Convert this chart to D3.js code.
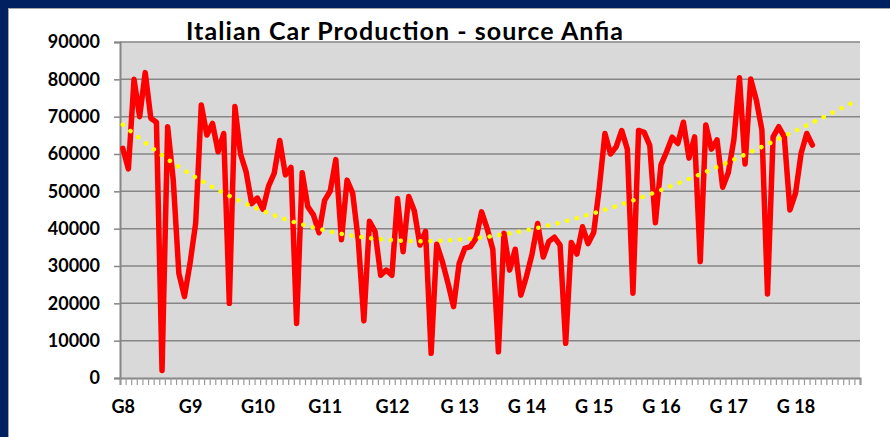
<!DOCTYPE html>
<html>
<head>
<meta charset="utf-8">
<script src="https://cdn.jsdelivr.net/npm/d3@7"></script>
<style>
body { margin: 0; background: #002060; }
svg { display: block; }
</style>
</head>
<body>
<svg id="chart" width="890" height="437"></svg>
<script>
// monthly car production, Jan 2008 .. Apr 2018
const production = [
  61500, 56000, 80000, 70000, 81800, 69600, 68500, 2000, 67300, 53000, 28000, 21800,
  30800, 41500, 73100, 65100, 68200, 60600, 65500, 20000, 72700, 60000, 55200, 46700,
  48200, 45200, 51400, 54800, 63600, 54400, 56400, 14600, 55000, 45900, 43700, 38900,
  47600, 50100, 58500, 37000, 53000, 49500, 37000, 15300, 42000, 39200, 27500, 28900,
  27500, 48100, 33800, 48600, 44800, 35600, 39300, 6600, 35800, 31200, 25400, 19100,
  30700, 34700, 35200, 37400, 44500, 40000, 34500, 7000, 38800, 28900, 34500, 22200,
  27200, 33200, 41400, 32400, 36600, 37700, 35600, 9300, 36300, 33200, 40500, 36000,
  39000, 51000, 65500, 60000, 61900, 66300, 61300, 22700, 66300, 65800, 62300, 41600,
  57100, 60600, 64500, 62800, 68500, 58900, 64600, 31200, 67800, 61300, 63800, 51100,
  55000, 63800, 80400, 57300, 80100, 74500, 66400, 22500, 64600, 67300, 64600, 45000,
  49500, 60200, 65500, 62400
];
const yearLabels = ["G8", "G9", "G10", "G11", "G12", "G 13", "G 14", "G 15", "G 16", "G 17", "G 18"];
const yTicks = [0, 10000, 20000, 30000, 40000, 50000, 60000, 70000, 80000, 90000];
const title = "Italian Car Production - source Anfia";
const trendOrder = 3;
const forecastMonths = 8;

const nMonths = yearLabels.length * 12;
const plotLeft = 120, plotRight = 860, plotTop = 42, plotBottom = 378;

const svg = d3.select('#chart');

// frame
svg.append('rect').attr('width', 890).attr('height', 437).attr('fill', '#002060');
svg.append('rect')
    .attr('x', 8.5).attr('y', 8.5)
    .attr('width', 900).attr('height', 450)
    .attr('fill', '#ffffff')
    .attr('stroke', '#a6a6a6');

const x = d3.scaleLinear().domain([0, nMonths]).range([plotLeft, plotRight]);
const y = d3.scaleLinear().domain([0, 90000]).range([plotBottom, plotTop]);

svg.append('rect')
    .attr('x', plotLeft).attr('y', plotTop)
    .attr('width', plotRight - plotLeft).attr('height', plotBottom - plotTop)
    .attr('fill', '#d9d9d9');

// gridlines
svg.append('g')
    .selectAll('line')
    .data(yTicks.filter(d => d > 0))
    .join('line')
    .attr('x1', plotLeft).attr('x2', plotRight)
    .attr('y1', d => y(d)).attr('y2', d => y(d))
    .attr('stroke', '#868686')
    .attr('stroke-width', 1.5);

// y axis
const yAxis = svg.append('g')
    .attr('transform', `translate(${plotLeft},0)`)
    .call(d3.axisLeft(y).tickValues(yTicks).tickSize(6).tickPadding(14).tickFormat(d3.format('d')));
yAxis.select('.domain').attr('stroke', '#868686').attr('stroke-width', 2);
yAxis.selectAll('.tick line').attr('stroke', '#868686').attr('stroke-width', 1.5);
yAxis.selectAll('text')
    .attr('font-family', 'Lato, sans-serif')
    .attr('font-weight', 700)
    .attr('font-size', 18)
    .attr('fill', '#000');

// x axis: month ticks
const xAxis = svg.append('g')
    .attr('transform', `translate(0,${plotBottom})`)
    .call(d3.axisBottom(x).tickValues(d3.range(nMonths + 1)).tickSize(7).tickFormat(''));
xAxis.select('.domain').attr('stroke', '#868686').attr('stroke-width', 2);
xAxis.selectAll('.tick line').attr('stroke', '#9a9a9a').attr('stroke-width', 1.2);

// x axis: year labels
const xLabels = svg.append('g')
    .attr('transform', `translate(0,${plotBottom})`)
    .call(d3.axisBottom(x)
        .tickValues(yearLabels.map((d, i) => i * 12 + 0.5))
        .tickSize(0).tickPadding(22)
        .tickFormat((d, i) => yearLabels[i]));
xLabels.select('.domain').remove();
xLabels.selectAll('text')
    .attr('font-family', 'Lato, sans-serif')
    .attr('font-weight', 700)
    .attr('font-size', 18)
    .attr('fill', '#000');

// polynomial trendline (least squares, like the spreadsheet trendline)
function polyFit(values, order) {
    const n = order + 1;
    const m = d3.range(n).map(() => new Array(n + 1).fill(0));
    values.forEach((v, i) => {
        const xi = (i + 1) / 100;
        for (let r = 0; r < n; r++) {
            for (let c = 0; c < n; c++) m[r][c] += Math.pow(xi, r + c);
            m[r][n] += v * Math.pow(xi, r);
        }
    });
    for (let c = 0; c < n; c++) {
        let p = c;
        for (let r = c + 1; r < n; r++) if (Math.abs(m[r][c]) > Math.abs(m[p][c])) p = r;
        [m[c], m[p]] = [m[p], m[c]];
        for (let r = c + 1; r < n; r++) {
            const f = m[r][c] / m[c][c];
            for (let k = c; k <= n; k++) m[r][k] -= f * m[c][k];
        }
    }
    const b = new Array(n).fill(0);
    for (let r = n - 1; r >= 0; r--) {
        let sum = m[r][n];
        for (let k = r + 1; k < n; k++) sum -= m[r][k] * b[k];
        b[r] = sum / m[r][r];
    }
    return xi => b.reduce((acc, bk, k) => acc + bk * Math.pow(xi / 100, k), 0);
}
const trend = polyFit(production, trendOrder);
const trendData = d3.range(production.length + forecastMonths).map(i => trend(i + 1));

svg.append('clipPath').attr('id', 'plotclip')
    .append('rect').attr('x', plotLeft).attr('y', plotTop - 3)
    .attr('width', plotRight - plotLeft).attr('height', plotBottom - plotTop + 3);

const line = d3.line()
    .x((d, i) => x(i + 0.5))
    .y(d => y(d));

svg.append('path')
    .datum(production)
    .attr('d', line)
    .attr('fill', 'none')
    .attr('stroke', '#ff0000')
    .attr('stroke-width', 5.5)
    .attr('stroke-linejoin', 'round')
    .attr('stroke-linecap', 'round');

svg.append('path')
    .datum(trendData)
    .attr('clip-path', 'url(#plotclip)')
    .attr('d', line)
    .attr('fill', 'none')
    .attr('stroke', '#ffff00')
    .attr('stroke-width', 4.5)
    .attr('stroke-linecap', 'round')
    .attr('stroke-dasharray', '0.1 9.8');

// title
svg.append('text')
    .attr('x', 186)
    .attr('y', 39.5)
    .attr('font-family', 'Lato, sans-serif')
    .attr('font-weight', 700)
    .attr('font-size', 25)
    .attr('textLength', 437)
    .attr('lengthAdjust', 'spacing')
    .attr('fill', '#000')
    .text(title);
</script>
</body>
</html>
